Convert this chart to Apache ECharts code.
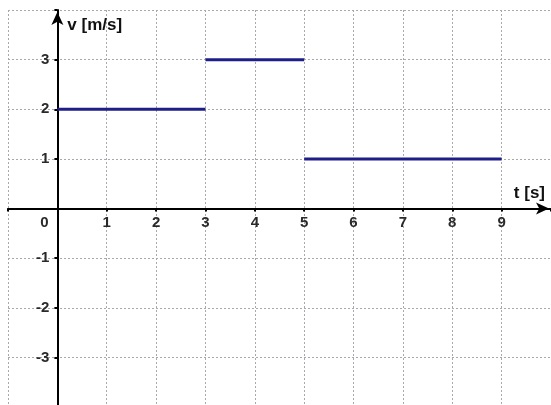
<!DOCTYPE html>
<html>
<head>
<meta charset="utf-8">
<script src="https://cdn.jsdelivr.net/npm/echarts@6/dist/echarts.min.js"></script>
<style>html,body{margin:0;padding:0;background:#fff}#c{width:551px;height:405px}</style>
</head>
<body>
<div id="c"></div>
<script>
// Data
const segment1 = [[0, 2], [3, 2]];
const segment2 = [[3, 3], [5, 3]];
const segment3 = [[5, 1], [9, 1]];
const xTickLabels = ['0','1','2','3','4','5','6','7','8','9'];
const yTickLabels = ['-3','-2','-1','1','2','3'];
const xName = 't [s]';
const yName = 'v [m/s]';

const chart = echarts.init(document.getElementById('c'), null, {renderer: 'canvas'});
const font = 'Liberation Sans, Arial, sans-serif';
const gridColor = '#a8a8b0';
const lineColor = '#1e1e88';
const G = {left: 8, top: 10, width: 543, height: 397};
const xMin = -1, xMax = 10, yMin = -4, yMax = 4;
// axis offsets so the axes cross at the origin
const yAxisOffset = -(0 - xMin) / (xMax - xMin) * G.width;
const xAxisOffset = -(0 - yMin) / (yMax - yMin) * G.height;
const lbl = {fontFamily: font, fontSize: 15, fontWeight: 'bold', color: '#2a2a2a'};
function seg(d) {
  return {type: 'line', data: d, symbol: 'none', lineStyle: {color: lineColor, width: 3}, silent: true, animation: false};
}
chart.setOption({
  animation: false,
  grid: Object.assign({containLabel: false, outerBoundsMode: 'none'}, G),
  xAxis: {
    type: 'value', min: xMin, max: xMax, interval: 1, position: 'bottom', offset: xAxisOffset,
    name: xName, nameLocation: 'end', nameGap: -6,
    nameTextStyle: {fontFamily: font, fontSize: 17, fontWeight: 'bold', color: '#111', align: 'right', verticalAlign: 'bottom', padding: [0, 0, 7, 0]},
    axisLine: {onZero: false, lineStyle: {color: '#000', width: 2}, symbol: ['none', 'arrow'], symbolSize: [9, 13], symbolOffset: [0, -2]},
    axisTick: {show: true, length: 3, inside: false, lineStyle: {color: '#000', width: 2}},
    axisLabel: Object.assign({
      margin: 7,
      formatter: function (v) {
        const s = String(v);
        if (s === '0') return '{z|0}';
        return xTickLabels.indexOf(s) >= 0 ? s : '';
      },
      rich: {z: Object.assign({padding: [0, 26, 0, 0]}, lbl)}
    }, lbl),
    splitLine: {show: true, lineStyle: {color: gridColor, type: [2, 2], width: 1}}
  },
  yAxis: {
    type: 'value', min: yMin, max: yMax, interval: 1, position: 'left', offset: yAxisOffset,
    name: yName, nameLocation: 'end', nameGap: -24,
    nameTextStyle: {fontFamily: font, fontSize: 17, fontWeight: 'bold', color: '#111', align: 'left', padding: [0, 0, 0, 10]},
    axisLine: {onZero: false, lineStyle: {color: '#000', width: 2}, symbol: ['none', 'arrow'], symbolSize: [9, 13], symbolOffset: [0, -2]},
    axisTick: {show: true, length: 3, lineStyle: {color: '#000', width: 2}},
    axisLabel: Object.assign({
      margin: 8,
      formatter: function (v) {
        const s = String(v);
        return yTickLabels.indexOf(s) >= 0 ? s : '';
      }
    }, lbl),
    splitLine: {show: true, lineStyle: {color: gridColor, type: [2, 2], width: 1}}
  },
  series: [seg(segment1), seg(segment2), seg(segment3)]
});
</script>
</body>
</html>
